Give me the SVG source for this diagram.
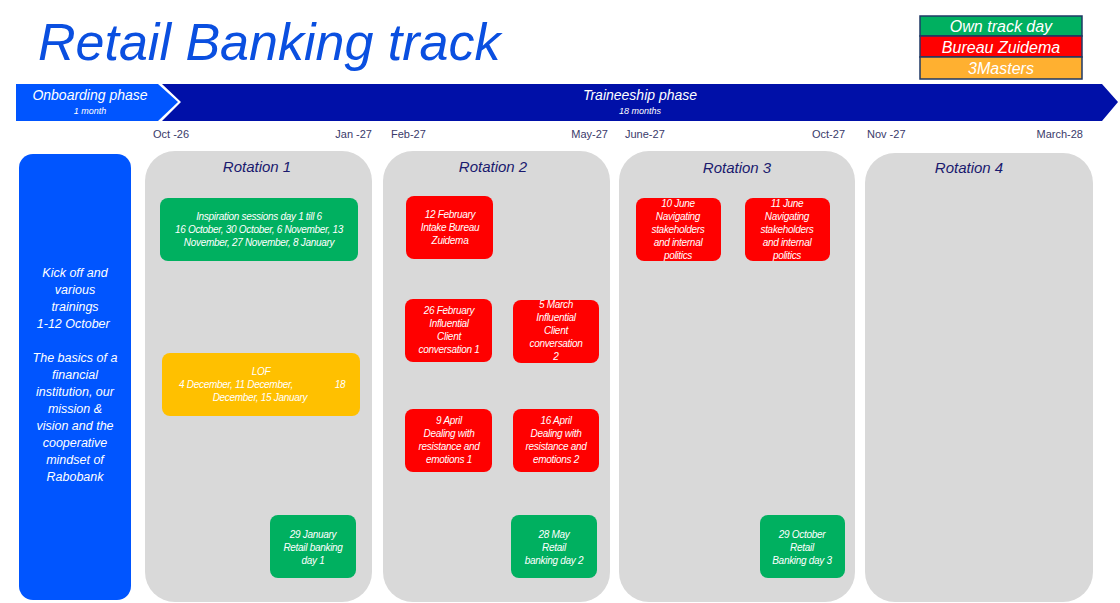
<svg xmlns="http://www.w3.org/2000/svg" width="1120" height="603" viewBox="0 0 1120 603">
<style>
text{font-family:"Liberation Sans",Arial,sans-serif;font-style:italic}
.b{fill:#fff;font-size:10px;text-anchor:middle;letter-spacing:-0.3px}
.d{fill:#3a3a6a;font-size:11px;font-style:normal}
.r{fill:#d9d9d9}
.rt{fill:#1a1a6e;font-size:15px;text-anchor:middle}
.g{fill:#00b060}.rd{fill:#ff0000}.o{fill:#ffc000}
.lg{font-size:16px;text-anchor:middle;fill:#fff}
</style>
<rect width="1120" height="603" fill="#fff"/>
<text x="38" y="60" font-size="52" fill="#0a4fe0">Retail Banking track</text>
<g id="legend">
<rect x="920" y="16" width="162" height="20" fill="#00b060" stroke="#1f3864" stroke-width="1.5"/>
<rect x="920" y="36" width="162" height="21" fill="#ff0000" stroke="#1f3864" stroke-width="1.5"/>
<rect x="920" y="57" width="162" height="22" fill="#ffb030" stroke="#1f3864" stroke-width="1.5"/>
<text class="lg" x="1001" y="32">Own track day</text>
<text class="lg" x="1001" y="53">Bureau Zuidema</text>
<text class="lg" x="1001" y="74">3Masters</text>
</g>
<g id="phases">
<polygon points="16,84 158,84 178,102 158,121 16,121" fill="#0055ff"/>
<polygon points="162,84 1102,84 1118,102 1102,121 162,121 181,102" fill="#0010a8"/>
<text x="90" y="100" font-size="14" fill="#fff" text-anchor="middle">Onboarding phase</text>
<text x="90" y="114" font-size="9" fill="#fff" text-anchor="middle">1 month</text>
<text x="640" y="100" font-size="14" fill="#fff" text-anchor="middle">Traineeship phase</text>
<text x="640" y="114" font-size="9" fill="#fff" text-anchor="middle">18 months</text>
</g>
<g id="dates">
<text class="d" x="153" y="138">Oct -26</text>
<text class="d" x="372" y="138" text-anchor="end">Jan -27</text>
<text class="d" x="391" y="138">Feb-27</text>
<text class="d" x="608" y="138" text-anchor="end">May-27</text>
<text class="d" x="625" y="138">June-27</text>
<text class="d" x="845" y="138" text-anchor="end">Oct-27</text>
<text class="d" x="867" y="138">Nov -27</text>
<text class="d" x="1083" y="138" text-anchor="end">March-28</text>
</g>
<g id="kickoff">
<rect x="19" y="154" width="112" height="446" rx="14" fill="#0055ff"/>
<text fill="#fff" font-size="12.5" text-anchor="middle">
<tspan x="75" y="277">Kick off and</tspan><tspan x="75" y="294">various</tspan><tspan x="75" y="311">trainings</tspan><tspan x="75" y="328">1-12 October</tspan>
<tspan x="75" y="362">The basics of a</tspan><tspan x="75" y="379">financial</tspan><tspan x="75" y="396">institution, our</tspan><tspan x="75" y="413">mission &amp;</tspan><tspan x="75" y="430">vision and the</tspan><tspan x="75" y="447">cooperative</tspan><tspan x="75" y="464">mindset of</tspan><tspan x="75" y="481">Rabobank</tspan>
</text>
</g>
<g id="rotation1"><rect class="r" x="145" y="151" width="227" height="451" rx="30"/><text class="rt" x="257" y="172">Rotation 1</text></g>
<g id="rotation2"><rect class="r" x="383" y="151" width="227" height="451" rx="30"/><text class="rt" x="493" y="172">Rotation 2</text></g>
<g id="rotation3"><rect class="r" x="619" y="151" width="236" height="451" rx="30"/><text class="rt" x="737" y="173">Rotation 3</text></g>
<g id="rotation4"><rect class="r" x="865" y="153" width="228" height="449" rx="30"/><text class="rt" x="969" y="173">Rotation 4</text></g>
<g id="inspiration"><rect class="g" x="160" y="198" width="198" height="63" rx="8"/>
<text class="b"><tspan x="259" y="220">Inspiration sessions day 1 till 6</tspan><tspan x="259" y="233">16 October, 30 October, 6 November, 13</tspan><tspan x="259" y="246">November, 27 November, 8 January</tspan></text></g>
<g id="lof"><rect class="o" x="162" y="353" width="198" height="63" rx="8"/>
<text class="b"><tspan x="261" y="375">LOF</tspan><tspan x="236" y="388">4 December, 11 December,</tspan><tspan x="340" y="388">18</tspan><tspan x="260" y="401">December, 15 January</tspan></text></g>
<g id="rb1"><rect class="g" x="270" y="515" width="86" height="63" rx="8"/>
<text class="b"><tspan x="313" y="538">29 January</tspan><tspan x="313" y="551">Retail banking</tspan><tspan x="313" y="564">day 1</tspan></text></g>
<g id="intake"><rect class="rd" x="406" y="196" width="87" height="63" rx="8"/>
<text class="b"><tspan x="450" y="218">12 February</tspan><tspan x="450" y="231">Intake Bureau</tspan><tspan x="450" y="244">Zuidema</tspan></text></g>
<g id="icc1"><rect class="rd" x="405" y="299" width="87" height="63" rx="8"/>
<text class="b"><tspan x="449" y="314">26 February</tspan><tspan x="449" y="327">Influential</tspan><tspan x="449" y="340">Client</tspan><tspan x="449" y="353">conversation 1</tspan></text></g>
<g id="icc2"><rect class="rd" x="513" y="300" width="86" height="63" rx="8"/>
<text class="b"><tspan x="556" y="308">5 March</tspan><tspan x="556" y="321">Influential</tspan><tspan x="556" y="334">Client</tspan><tspan x="556" y="347">conversation</tspan><tspan x="556" y="360">2</tspan></text></g>
<g id="drm1"><rect class="rd" x="405" y="409" width="87" height="63" rx="8"/>
<text class="b"><tspan x="449" y="424">9 April</tspan><tspan x="449" y="437">Dealing with</tspan><tspan x="449" y="450">resistance and</tspan><tspan x="449" y="463">emotions 1</tspan></text></g>
<g id="drm2"><rect class="rd" x="513" y="409" width="86" height="63" rx="8"/>
<text class="b"><tspan x="556" y="424">16 April</tspan><tspan x="556" y="437">Dealing with</tspan><tspan x="556" y="450">resistance and</tspan><tspan x="556" y="463">emotions 2</tspan></text></g>
<g id="rb2"><rect class="g" x="511" y="515" width="86" height="63" rx="8"/>
<text class="b"><tspan x="554" y="538">28 May</tspan><tspan x="554" y="551">Retail</tspan><tspan x="554" y="564">banking day 2</tspan></text></g>
<g id="nav1"><rect class="rd" x="636" y="198" width="85" height="63" rx="8"/>
<text class="b"><tspan x="678" y="207">10 June</tspan><tspan x="678" y="220">Navigating</tspan><tspan x="678" y="233">stakeholders</tspan><tspan x="678" y="246">and internal</tspan><tspan x="678" y="259">politics</tspan></text></g>
<g id="nav2"><rect class="rd" x="745" y="198" width="85" height="63" rx="8"/>
<text class="b"><tspan x="787" y="207">11 June</tspan><tspan x="787" y="220">Navigating</tspan><tspan x="787" y="233">stakeholders</tspan><tspan x="787" y="246">and internal</tspan><tspan x="787" y="259">politics</tspan></text></g>
<g id="rb3"><rect class="g" x="760" y="515" width="85" height="63" rx="8"/>
<text class="b"><tspan x="802" y="538">29 October</tspan><tspan x="802" y="551">Retail</tspan><tspan x="802" y="564">Banking day 3</tspan></text></g>
<g id="connectors"/>
</svg>
